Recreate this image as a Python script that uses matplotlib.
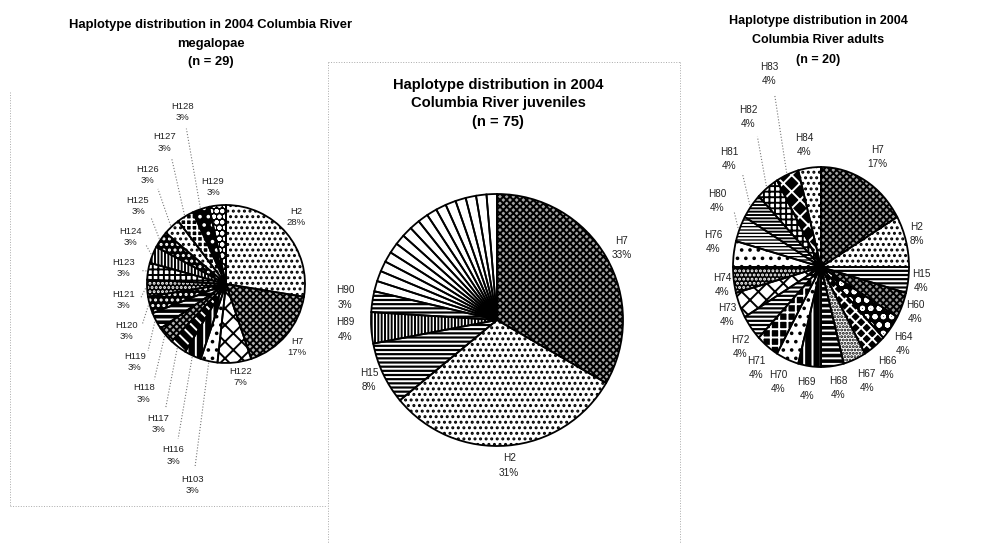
import numpy as np
import matplotlib.pyplot as plt
from matplotlib.lines import Line2D

plt.rcParams['font.family'] = ['Liberation Sans', 'DejaVu Sans']
plt.rcParams['hatch.linewidth'] = 1.4

W, H = 1008, 544

# megalopae (n = 29)
mega_names = ['H2', 'H7', 'H122', 'H103', 'H116', 'H117', 'H118', 'H119', 'H120',
              'H121', 'H123', 'H124', 'H125', 'H126', 'H127', 'H128', 'H129']
mega_counts = [8, 5, 2, 1, 1, 1, 1, 1, 1, 1, 1, 1, 1, 1, 1, 1, 1]

# juveniles (n = 75), the 16 single haplotypes carry no label
juv_names = ['H7', 'H2', 'H15', 'H89', 'H90'] + [''] * 16
juv_counts = [25, 23, 6, 3, 2] + [1] * 16

# adults
ad_names = ['H7', 'H2', 'H15', 'H60', 'H64', 'H66', 'H67', 'H68', 'H69', 'H70',
            'H71', 'H72', 'H73', 'H74', 'H76', 'H80', 'H81', 'H82', 'H83', 'H84']
ad_counts = [4, 2] + [1] * 18

titles = [['Haplotype distribution in 2004 Columbia River', 'megalopae', '(n = 29)'],
          ['Haplotype distribution in 2004', 'Columbia River juveniles', '(n = 75)'],
          ['Haplotype distribution in 2004', 'Columbia River adults', '(n = 20)']]

# fill styles: (face, hatch, hatch colour)
mega_fill = [('white', '...', 'black'), ('#b4b4b4', 'xxxxx', 'black'), ('white', 'xx', 'black'),
             ('white', '..', 'black'), ('black', '||', 'white'), ('black', '\\\\\\', 'white'),
             ('#b4b4b4', 'xxxxx', 'black'), ('black', '---', 'white'), ('black', '...', 'white'),
             ('black', '....', 'white'), ('white', '+++', 'black'), ('white', '|||||', 'black'),
             ('black', '...', 'white'), ('white', '...', 'black'), ('black', '+++', 'white'),
             ('black', '..', 'white'), ('black', 'ooo', 'white')]
juv_fill = [('#a4a4a4', 'xxxxx', 'black'), ('white', '...', 'black'), ('black', '----', 'white'),
            ('white', '|||||', 'black'), ('black', '----', 'white')] + [('white', '', 'black')] * 16
ad_fill = [('#a4a4a4', 'xxxxx', 'black'), ('white', '...', 'black'), ('black', '----', 'white'),
           ('#9c9c9c', 'xxxxx', 'black'), ('black', 'oo', 'white'), ('black', 'xxx', 'white'),
           ('white', '.....', 'black'), ('black', '---', 'white'), ('black', '||', 'white'),
           ('white', '..', 'black'), ('black', '++', 'white'), ('black', '----', 'white'),
           ('white', 'xx', 'black'), ('black', '....', 'white'), ('white', '..', 'black'),
           ('black', '-----', 'white'), ('white', '-----', 'black'), ('white', '+++', 'black'),
           ('black', 'xx', 'white'), ('white', '...', 'black')]

# label layout: angle (deg) and distance in radii; None angle = slice middle
mega_lab_ang = [43.7, -41.6, -81, -99.6, -107.2, -115.9, -126.9, -139.4, -154.6,
                -171, 171, 153.9, 138.4, 125.6, 113.4, 104.3, 97.6]
mega_lab_r = [1.23, 1.2, 1.19, 2.58, 2.27, 1.97, 1.73, 1.52, 1.39,
              1.31, 1.31, 1.35, 1.49, 1.7, 1.95, 2.25, 1.24]
juv_lab_ang = None
juv_lab_r = [1.14, 1.16, 1.12, 1.21, 1.22] + [1.2] * 16
ad_lab_ang = [59.8, 17, -7, -23, -39.6, -53.4, -65.5, -81, -97.5, -113,
              -126, -139, -155.8, -171, 168.5, 150.8, 134, 119, 107, 99]
ad_lab_r = [1.27, 1.14, 1.15, 1.16, 1.21, 1.26, 1.25, 1.23, 1.23, 1.25,
            1.25, 1.22, 1.17, 1.14, 1.25, 1.35, 1.5, 1.71, 2.02, 1.24]

fig = plt.figure(figsize=(W / 100, H / 100), dpi=100)


def draw_pie(counts, names, fills, cx, cy, rx, ry, lab_ang, lab_r, fs, lsp):
    ax = fig.add_axes([0, 0, 1, 1])
    wedges, _ = ax.pie(counts, startangle=90, counterclock=False,
                       colors=[f[0] for f in fills], hatch=[f[1] for f in fills],
                       wedgeprops=dict(linewidth=0))
    for w, f in zip(wedges, fills):
        w.set_edgecolor(f[2])
    ax.pie(counts, startangle=90, counterclock=False,
           wedgeprops=dict(fill=False, edgecolor='black', linewidth=1.3))
    total = sum(counts)
    for i, (w, n, c) in enumerate(zip(wedges, names, counts)):
        if not n:
            continue
        mid = np.deg2rad((w.theta1 + w.theta2) / 2)
        a = mid if lab_ang is None else np.deg2rad(lab_ang[i])
        d = lab_r[i]
        ax.text(d * np.cos(a), d * np.sin(a), '%s\n%d%%' % (n, round(100 * c / total)),
                ha='center', va='center', fontsize=fs, linespacing=lsp, color='#222222')
        if d > 1.3:
            ax.plot([1.02 * np.cos(mid), (d - 0.22) * np.cos(a)],
                    [1.02 * np.sin(mid), (d - 0.22) * np.sin(a)],
                    ls=':', lw=0.8, color='#777777')
    ax.set_xlim(-cx / rx, (W - cx) / rx)
    ax.set_ylim(-(H - cy) / ry, cy / ry)
    ax.set_aspect('auto')
    ax.set_axis_off()


draw_pie(mega_counts, mega_names, mega_fill, 226, 284, 79, 79,
         mega_lab_ang, mega_lab_r, 6.8, 1.35)
draw_pie(juv_counts, juv_names, juv_fill, 497, 320, 126, 126,
         juv_lab_ang, juv_lab_r, 7.2, 1.55)
draw_pie(ad_counts, ad_names, ad_fill, 821, 267, 88, 100,
         ad_lab_ang, ad_lab_r, 7.2, 1.5)

# title lines: x centre, y of each line, font size
title_x = [211, 498, 818]
title_y = [[25, 43.5, 62], [85.5, 103.5, 122], [21, 40, 59.5]]
title_fs = [9.4, 10.6, 9]
for lines, tx, tys, tfs in zip(titles, title_x, title_y, title_fs):
    for line, ty in zip(lines, tys):
        fig.text(tx / W, 1 - ty / H, line, ha='center', va='center',
                 fontsize=tfs, fontweight='bold')

# faint dotted panel frames from the scanned page
for x0, y0, x1, y1 in [(10, 92, 10, 506), (10, 506, 327, 506), (328, 62, 328, 544),
                       (328, 62, 680, 62), (680, 62, 680, 544)]:
    fig.add_artist(Line2D([x0 / W, x1 / W], [1 - y0 / H, 1 - y1 / H],
                          transform=fig.transFigure, ls=':', lw=0.7, color='#aaaaaa'))

fig.savefig('out.png', dpi=100)
